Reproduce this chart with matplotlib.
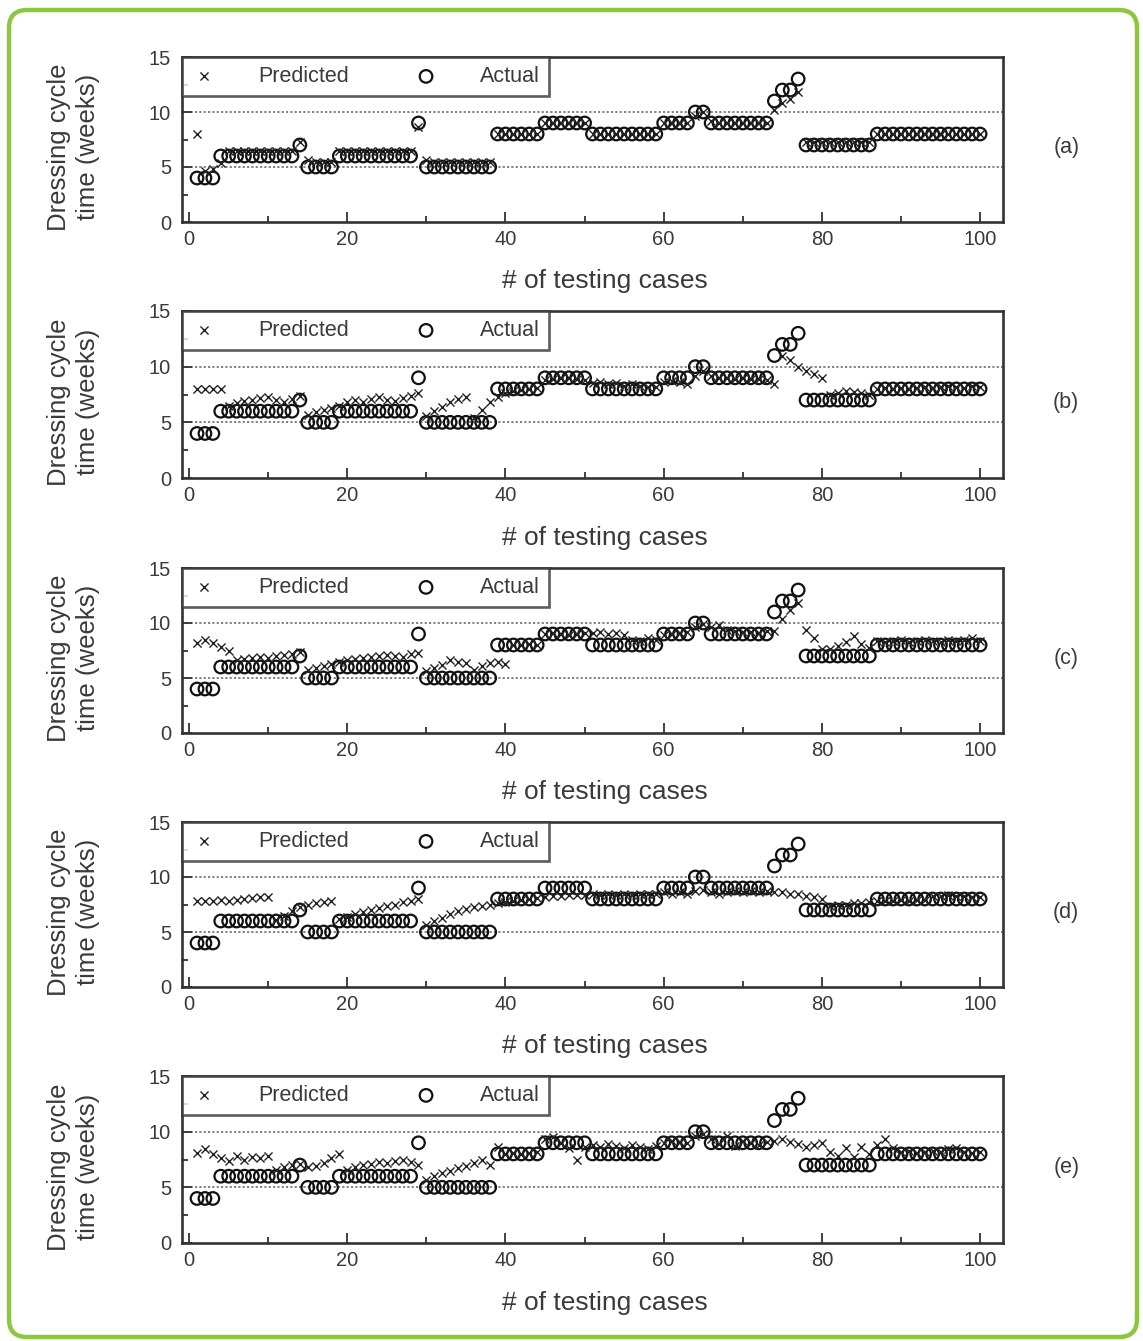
import numpy as np
import matplotlib
matplotlib.use('Agg')
import matplotlib.pyplot as plt
from matplotlib.patches import FancyBboxPatch
from matplotlib.transforms import IdentityTransform

plt.rcParams['font.family'] = ['Liberation Sans', 'DejaVu Sans']

cases = np.arange(1, 101)

actual = [4, 4, 4, 6, 6, 6, 6, 6, 6, 6,
          6, 6, 6, 7, 5, 5, 5, 5, 6, 6,
          6, 6, 6, 6, 6, 6, 6, 6, 9, 5,
          5, 5, 5, 5, 5, 5, 5, 5, 8, 8,
          8, 8, 8, 8, 9, 9, 9, 9, 9, 9,
          8, 8, 8, 8, 8, 8, 8, 8, 8, 9,
          9, 9, 9, 10, 10, 9, 9, 9, 9, 9,
          9, 9, 9, 11, 12, 12, 13, 7, 7, 7,
          7, 7, 7, 7, 7, 7, 8, 8, 8, 8,
          8, 8, 8, 8, 8, 8, 8, 8, 8, 8]

pred_a = [8, 4.6, 4.8, 5.4, 6.5, 6.5, 6.5, 6.5, 6.5, 6.5,
          6.5, 6.5, 6.5, 7.3, 5.6, 5.5, 5.5, 5.5, 6.5, 6.5,
          6.5, 6.5, 6.5, 6.5, 6.5, 6.5, 6.5, 6.5, 8.6, 5.6,
          5.5, 5.5, 5.5, 5.5, 5.5, 5.5, 5.5, 5.5, 8, 8,
          8, 8, 8, 8, 9, 9, 9, 9, 9, 9,
          8, 8, 8, 8, 8, 8, 8, 8, 8, 9,
          9, 9, 9, 9.6, 10, 9.2, 9, 9, 9, 9,
          9, 9, 9, 10.2, 10.8, 11.2, 11.8, 7.3, 7.3, 7.3,
          7.3, 7.3, 7.3, 7.3, 7.3, 7.3, 8, 8, 8, 8,
          8, 8, 8, 8, 8, 8, 8, 8, 8, 8]

pred_b = [8, 8, 8, 8, 6.5, 6.7, 6.9, 7.0, 7.2, 7.3,
          7.0, 6.8, 7.1, 7.4, 5.7, 5.9, 6.1, 6.3, 6.5, 6.8,
          7.0, 6.8, 7.1, 7.3, 7.0, 6.9, 7.2, 7.4, 7.6, 5.6,
          6.0, 6.4, 6.8, 7.1, 7.3, 5.4, 6.1, 6.8, 7.3, 7.6,
          7.8, 7.9, 8.0, 8.1, 8.8, 8.9, 9.0, 9.0, 8.9, 8.8,
          8.5, 8.6, 8.4, 8.5, 8.3, 8.4, 8.3, 8.2, 8.2, 8.6,
          8.7, 8.6, 8.4, 9.2, 9.6, 9.2, 9.0, 9.0, 8.9, 9.0,
          8.9, 8.9, 8.8, 8.4, 11.0, 10.6, 10.0, 9.6, 9.3, 9.0,
          7.5, 7.6, 7.8, 7.7, 7.6, 7.5, 8.0, 8.1, 8.0, 8.1,
          8.0, 8.1, 8.2, 8.1, 8.2, 8.3, 8.2, 8.1, 8.3, 8.2]

pred_c = [8.2, 8.5, 8.2, 7.8, 7.5, 6.6, 6.7, 6.8, 6.9, 6.8,
          7.0, 7.1, 7.2, 7.4, 5.7, 5.9, 6.1, 6.3, 6.5, 6.6,
          6.7, 6.8, 6.9, 7.0, 7.1, 7.0, 6.9, 7.2, 7.3, 5.6,
          5.9, 6.2, 6.6, 6.5, 6.4, 5.7, 6.1, 6.4, 6.5, 6.3,
          8.0, 8.0, 8.1, 8.0, 9.0, 9.1, 9.0, 8.9, 9.0, 9.1,
          9.1, 9.2, 9.0, 9.1, 8.9, 8.5, 8.4, 8.6, 8.5, 8.9,
          9.0, 9.1, 9.2, 9.6, 9.9, 9.6, 9.8, 9.4, 9.3, 9.2,
          9.2, 9.1, 9.3, 9.3, 10.4, 11.2, 11.8, 9.4, 8.6, 7.6,
          7.6, 7.9, 8.3, 8.8, 8.1, 7.7, 8.4, 8.3, 8.4, 8.5,
          8.3, 8.4, 8.5, 8.4, 8.3, 8.5, 8.4, 8.5, 8.6, 8.4]

pred_d = [7.8, 7.8, 7.8, 7.9, 7.8, 7.9, 8.0, 8.1, 8.2, 8.2,
          6.1, 6.5, 6.9, 7.3, 7.5, 7.6, 7.7, 7.8, 6.2, 6.4,
          6.6, 6.8, 7.0, 7.2, 7.4, 7.5, 7.7, 7.8, 8.0, 5.6,
          6.0, 6.3, 6.6, 6.9, 7.1, 7.3, 7.4, 7.5, 7.6, 7.7,
          7.8, 7.9, 8.0, 8.1, 8.2, 8.3, 8.3, 8.4, 8.4, 8.4,
          8.5, 8.4, 8.5, 8.4, 8.5, 8.4, 8.5, 8.5, 8.5, 8.6,
          8.5, 8.6, 8.5, 8.7, 8.8, 8.6, 8.5, 8.6, 8.7, 8.6,
          8.7, 8.6, 8.7, 8.6, 8.6, 8.5, 8.5, 8.3, 8.2, 8.0,
          7.4, 7.5, 7.5, 7.6, 7.6, 7.7, 7.8, 7.8, 7.8, 7.9,
          7.8, 7.9, 7.9, 8.3, 8.3, 8.4, 8.3, 8.3, 8.2, 8.2]

pred_e = [8.1, 8.4, 8.0, 7.6, 7.4, 7.8, 7.5, 7.7, 7.6, 7.8,
          6.6, 6.8, 7.0, 7.1, 6.8, 6.9, 7.2, 7.6, 8.0, 6.6,
          6.8, 7.0, 7.1, 7.3, 7.2, 7.4, 7.5, 7.3, 7.0, 5.7,
          6.0, 6.3, 6.5, 6.7, 6.9, 7.2, 7.5, 7.0, 8.6, 8.0,
          8.1, 8.0, 8.1, 8.2, 9.3, 9.5, 9.0, 8.5, 7.5, 8.6,
          8.8, 8.6, 8.9, 8.7, 8.5, 8.8, 8.6, 8.4, 8.7, 9.0,
          9.2, 9.1, 9.0, 9.6, 9.8, 9.3, 8.9, 9.6, 8.7, 9.2,
          9.0, 8.8, 9.1, 9.2, 9.3, 9.1, 8.9, 8.6, 8.8, 9.0,
          8.2, 7.8, 8.5, 7.7, 8.6, 8.0, 8.8, 9.3, 8.5, 8.2,
          8.3, 8.1, 8.2, 8.3, 8.2, 8.4, 8.5, 8.2, 8.1, 8.2]

predictions = [pred_a, pred_b, pred_c, pred_d, pred_e]
panel_labels = ['(a)', '(b)', '(c)', '(d)', '(e)']

# pixel boxes (top, bottom) of each panel in the 1143x1341 image
W, H = 1143, 1341
panel_tops = [57, 311, 568, 822, 1076]
panel_bottoms = [222, 478, 733, 987, 1243]
ax_left, ax_right = 182, 1003

txt = '#3a3a3a'
fig = plt.figure(figsize=(W / 100, H / 100), dpi=100)

# green rounded frame
frame = FancyBboxPatch((9, 4), 1128, 1327,
                       boxstyle='round,pad=0,rounding_size=18',
                       transform=IdentityTransform(),
                       facecolor='none', edgecolor='#8dc63f', linewidth=3.2)
fig.patches.append(frame)

for i in range(5):
    top, bot = panel_tops[i], panel_bottoms[i]
    ax = fig.add_axes([ax_left / W, 1 - bot / H, (ax_right - ax_left) / W, (bot - top) / H])

    ax.scatter(cases, predictions[i], marker='x', s=34, color='#222222',
               linewidths=1.0, label='Predicted', zorder=3)
    ax.scatter(cases, actual, marker='o', s=82, facecolors='none',
               edgecolors='#111111', linewidths=1.6, label='Actual', zorder=2)

    for yv in (5, 10):
        ax.axhline(yv, color='#777777', linestyle=(0, (1.2, 1.2)), linewidth=1.3, zorder=1)

    ax.set_xlim(-0.9, 102.9)
    ax.set_ylim(0, 15)
    ax.set_xticks([0, 20, 40, 60, 80, 100])
    ax.set_xticks([10, 30, 50, 70, 90], minor=True)
    ax.set_yticks([0, 5, 10, 15])
    ax.set_yticks([2.5, 7.5, 12.5], minor=True)
    ax.tick_params(which='both', direction='in', top=False, right=False,
                   colors='#333333', labelcolor=txt, labelsize=14.5, width=1.3)
    ax.tick_params(which='major', length=7)
    ax.tick_params(which='minor', length=4)
    ax.tick_params(axis='x', pad=6)
    ax.tick_params(axis='y', pad=8)
    for sp in ax.spines.values():
        sp.set_linewidth(1.9)
        sp.set_color('#333333')

    ax.set_xlabel('# of testing cases', fontsize=19, color=txt)
    ax.xaxis.set_label_coords(0.515, -0.285)
    ax.set_ylabel('Dressing cycle\ntime (weeks)', fontsize=18.5, color=txt, linespacing=1.25)
    ax.yaxis.set_label_coords(-0.1, 0.455)

    ax.text(1.077, 0.45, panel_labels[i], transform=ax.transAxes, fontsize=15.5,
            color=txt, ha='center', va='center')

    leg = ax.legend(loc='upper left', bbox_to_anchor=(0, 1), ncol=2, frameon=True,
                    fancybox=False, edgecolor='#333333', fontsize=15.5,
                    borderaxespad=0, handletextpad=1.9, columnspacing=3.0,
                    handlelength=1.2, borderpad=0.42, scatterpoints=1)
    leg.get_frame().set_linewidth(1.9)
    for t in leg.get_texts():
        t.set_color(txt)

fig.savefig('out.png', dpi=100)
